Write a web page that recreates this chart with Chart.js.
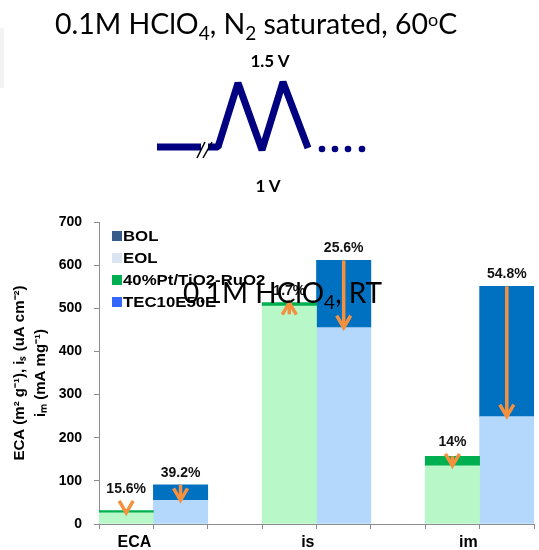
<!DOCTYPE html>
<html>
<head>
<meta charset="utf-8">
<script src="https://cdn.jsdelivr.net/npm/chart.js@4.4.0/dist/chart.umd.min.js"></script>
<style>
  body { margin: 0; background: #fff; }
  #wrap { position: relative; width: 539px; height: 550px; overflow: hidden; }
  #chart { position: absolute; left: 0; top: 0; }
  #notes { position: absolute; left: 0; top: 0; pointer-events: none; }
</style>
</head>
<body>
<div id="wrap">
  <canvas id="chart" width="539" height="550"></canvas>
  <svg id="notes" width="539" height="550" xmlns="http://www.w3.org/2000/svg">
    <rect x="0" y="28" width="4" height="60" fill="#f3f3f3"/>
    <text x="55" y="34" font-family="Lato" font-size="28.5" fill="#000">0.1M HClO<tspan font-size="19" dy="6">4</tspan><tspan dy="-6">, N</tspan><tspan font-size="19" dy="6">2</tspan><tspan dy="-6"> saturated, 60</tspan><tspan font-size="18" dy="-8">o</tspan><tspan dy="8">C</tspan></text>
    <text x="270" y="67" text-anchor="middle" font-family="Lato" font-weight="bold" font-size="17" fill="#000">1.5 V</text>
    <text x="268" y="192" text-anchor="middle" font-family="Lato" font-weight="bold" font-size="17" fill="#000">1 V</text>
    <polyline points="157,147 201,147" stroke="#000080" stroke-width="7" fill="none"/>
    <polyline points="208,147 218,147 238,83 262,150 283,82 308,148" stroke="#000080" stroke-width="7" fill="none" stroke-linejoin="bevel"/>
    <line x1="197" y1="158" x2="205" y2="142" stroke="#000" stroke-width="1.5"/>
    <line x1="203" y1="158" x2="212" y2="142" stroke="#000" stroke-width="1.5"/>
    <circle cx="322" cy="149" r="3.3" fill="#000080"/>
    <circle cx="335" cy="149" r="3.3" fill="#000080"/>
    <circle cx="348" cy="149" r="3.3" fill="#000080"/>
    <circle cx="362" cy="149" r="3.3" fill="#000080"/>
    <g id="legend"></g>
    <text x="183" y="303" font-family="Lato" font-size="28" fill="#000">0.1M HClO<tspan font-size="19" dy="6">4</tspan><tspan dy="-6">, RT</tspan></text>
  </svg>
</div>
<script>
// values
const categories = ['ECA', 'is', 'im'];
const ptBOL = [31, 513, 157];
const ptEOL = [26, 505, 135];
const tecBOL = [91, 611, 551];
const tecEOL = [55, 455, 249];
const ptLoss = ['15.6%', '1.7%', '14%'];
const tecLoss = ['39.2%', '25.6%', '54.8%'];
const ptArrowFrom = [31, 486, 157];
const ptArrowTo = [26, 513, 135];
const tecArrowFrom = [91, 611, 551];
const tecArrowTo = [55, 455, 249];
const legendLabels = ['BOL', 'EOL', '40%Pt/TiO2-RuO2', 'TEC10E50E'];
const legendColors = ['#385d8a', '#dbe5f1', '#00b050', '#3366ff'];

// 8 slots: pt bar, tec bar, gap, pt, tec, gap, pt, tec
const slotCount = 8;
function spread(values, offset) {
	const arr = new Array(slotCount).fill(null);
	values.forEach((v, i) => { arr[3 * i + offset] = v; });
	return arr;
}

const ns = 'http://www.w3.org/2000/svg';
const legendGroup = document.getElementById('legend');
legendLabels.forEach((lab, i) => {
	const cy = 236 + i * 22;
	const r = document.createElementNS(ns, 'rect');
	r.setAttribute('x', 112); r.setAttribute('y', cy - 5);
	r.setAttribute('width', 10); r.setAttribute('height', 10);
	r.setAttribute('fill', legendColors[i]);
	legendGroup.appendChild(r);
	const g = document.createElementNS(ns, 'g');
	g.setAttribute('transform', 'translate(123,' + (cy + 5) + ') scale(1.2,1)');
	const t = document.createElementNS(ns, 'text');
	t.setAttribute('font-family', 'Liberation Sans, Arial');
	t.setAttribute('font-weight', 'bold');
	t.setAttribute('font-size', '14');
	t.textContent = lab;
	g.appendChild(t);
	legendGroup.appendChild(g);
});

const annotate = {
	id: 'annotate',
	afterDatasetsDraw(chart) {
		const {ctx, scales: {x, y}} = chart;
		ctx.save();
		const drawSeries = (bol, from, to, labels, offset) => {
			bol.forEach((v, i) => {
				const cx = x.getPixelForValue(3 * i + offset);
				const yBol = y.getPixelForValue(v);
				const y0 = y.getPixelForValue(from[i]);
				const y1 = y.getPixelForValue(to[i]);
				const dir = y1 > y0 ? 1 : -1;
				ctx.strokeStyle = '#f5913e';
				ctx.lineWidth = 3.5;
				ctx.lineJoin = 'miter';
				ctx.beginPath();
				ctx.moveTo(cx, y0);
				ctx.lineTo(cx, y1 - dir * 2);
				ctx.stroke();
				ctx.beginPath();
				ctx.moveTo(cx - 7, y1 - dir * 12);
				ctx.lineTo(cx, y1);
				ctx.lineTo(cx + 7, y1 - dir * 12);
				ctx.stroke();
				const top = Math.min(yBol, y0, y1, dir > 0 ? y1 - 12 : y1);
				ctx.fillStyle = '#111';
				ctx.font = 'bold 14px "Liberation Sans", Arial';
				ctx.textAlign = 'center';
				ctx.textBaseline = 'middle';
				ctx.fillText(labels[i], cx, top - 12);
			});
		};
		drawSeries(ptBOL, ptArrowFrom, ptArrowTo, ptLoss, 0);
		drawSeries(tecBOL, tecArrowFrom, tecArrowTo, tecLoss, 1);

		ctx.fillStyle = '#000';
		ctx.font = 'bold 16px "Liberation Sans", Arial';
		ctx.textAlign = 'right';
		ctx.textBaseline = 'middle';
		categories.forEach((c, i) => {
			const edge = (x.getPixelForValue(3 * i) + x.getPixelForValue(3 * i + 1)) / 2;
			ctx.fillText(c, edge - 2, 543);
		});
		ctx.restore();
	}
};

Chart.defaults.font.family = '"Liberation Sans", Arial, sans-serif';

new Chart(document.getElementById('chart'), {
	type: 'bar',
	data: {
		labels: new Array(slotCount).fill(''),
		datasets: [
			{ label: 'Pt EOL', data: spread(ptEOL, 0), backgroundColor: '#b7f7c8' },
			{ label: 'Pt BOL', data: spread(ptBOL.map((v, i) => v - ptEOL[i]), 0), backgroundColor: '#00b050' },
			{ label: 'TEC EOL', data: spread(tecEOL, 1), backgroundColor: '#b4d8fb' },
			{ label: 'TEC BOL', data: spread(tecBOL.map((v, i) => v - tecEOL[i]), 1), backgroundColor: '#0070c0' }
		]
	},
	options: {
		responsive: false,
		animation: false,
		layout: { padding: { top: 222, right: 5, left: 0, bottom: 0 } },
		datasets: { bar: { barPercentage: 1, categoryPercentage: 1, borderWidth: 0 } },
		plugins: { legend: { display: false }, tooltip: { enabled: false } },
		scales: {
			x: {
				stacked: true,
				grid: { offset: true, drawOnChartArea: false, tickLength: 5, color: '#8c8c8c' },
				border: { color: '#8c8c8c' },
				ticks: { callback: () => '' },
				afterFit: (s) => { s.height = 26; }
			},
			y: {
				stacked: true,
				min: 0,
				max: 700,
				ticks: { stepSize: 100, padding: 12, color: '#000', font: { size: 14, weight: 'bold' } },
				grid: { drawOnChartArea: false, tickLength: 5, color: '#8c8c8c' },
				border: { color: '#8c8c8c' },
				title: {
					display: true,
					text: ['ECA (m\u00b2 g\u207b\u00b9), i\u209b (uA cm\u207b\u00b2)', 'i\u2098 (mA mg\u207b\u00b9)'],
					color: '#000',
					font: { size: 15, weight: 'bold', lineHeight: 1.35 },
					padding: { top: 10, bottom: 0 }
				},
				afterFit: (s) => { s.width = 99; }
			}
		}
	},
	plugins: [annotate]
});
</script>
</body>
</html>
